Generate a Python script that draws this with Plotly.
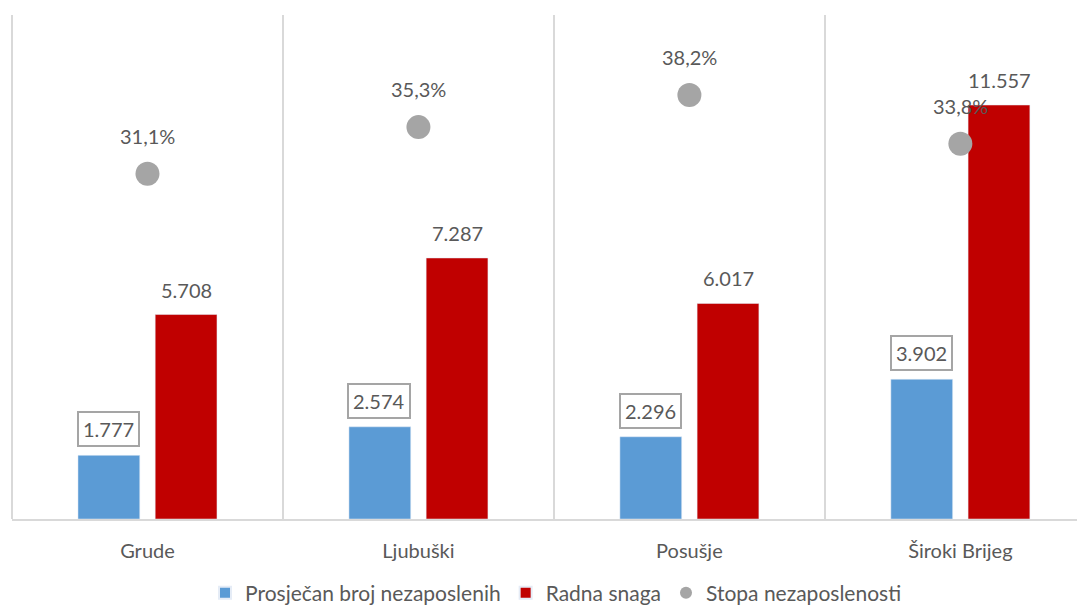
import plotly.graph_objects as go

categories = ["Grude", "Ljubuški", "Posušje", "Široki Brijeg"]
nezaposleni = [1777, 2574, 2296, 3902]
radna_snaga = [5708, 7287, 6017, 11557]
stopa = [0.311, 0.353, 0.382, 0.338]

BLUE = "#5b9bd5"
RED = "#c00000"
GRAY = "#a5a5a5"
TXT = "#595959"
FONT = "Lato"


def fmt_int(v):
    return f"{v:,}".replace(",", ".")


def fmt_pct(v):
    return f"{v*100:.1f}".replace(".", ",") + "%"


fig = go.Figure()
fig.add_trace(go.Bar(name="Prosječan broj nezaposlenih", x=categories, y=nezaposleni,
                     marker_color=BLUE, hoverinfo="skip"))
fig.add_trace(go.Bar(name="Radna snaga", x=categories, y=radna_snaga,
                     marker_color=RED, hoverinfo="skip"))
fig.add_trace(go.Scatter(name="Stopa nezaposlenosti", x=categories, y=stopa, mode="markers",
                         marker=dict(color=GRAY, size=24), yaxis="y2", hoverinfo="skip"))

annotations = []
for c, v in zip(categories, nezaposleni):
    annotations.append(dict(x=c, y=v, xref="x", yref="y", text=fmt_int(v), showarrow=False,
                            xshift=-39, yshift=26, font=dict(family=FONT, size=20, color=TXT),
                            bordercolor="#a5a5a5", borderwidth=2, borderpad=4, bgcolor="white"))
for c, v in zip(categories, radna_snaga):
    annotations.append(dict(x=c, y=v, xref="x", yref="y", text=fmt_int(v), showarrow=False,
                            xshift=39, yshift=25, font=dict(family=FONT, size=20, color=TXT)))
for c, v in zip(categories, stopa):
    annotations.append(dict(x=c, y=v, xref="x", yref="y2", text=fmt_pct(v), showarrow=False,
                            yshift=38, font=dict(family=FONT, size=20, color=TXT)))

fig.update_layout(
    width=1077, height=600,
    margin=dict(l=4, r=0, t=7, b=89, autoexpand=False),
    paper_bgcolor="white", plot_bgcolor="white",
    barmode="group", bargap=0.43, bargroupgap=0.2,
    separators=",.",
    font=dict(family=FONT, color=TXT),
    showlegend=True,
    legend=dict(orientation="h", x=0.507, xanchor="center", y=-0.147, yanchor="middle",
                font=dict(family=FONT, size=21, color=TXT), itemwidth=30, traceorder="normal",
                itemsizing="constant"),
    xaxis=dict(type="category", range=[-0.5, 3.46], showgrid=True, gridcolor="#d9d9d9", gridwidth=2,
               tickson="boundaries", ticks="", showline=True, linecolor="#d9d9d9", linewidth=2,
               automargin=False,
               tickfont=dict(family=FONT, size=20, color=TXT), ticklabelstandoff=13),
    yaxis=dict(range=[0, 14070], visible=False, showgrid=False, zeroline=False, automargin=False),
    yaxis2=dict(range=[0, 0.454], overlaying="y", visible=False, showgrid=False, zeroline=False,
                automargin=False),
    annotations=annotations,
    shapes=[dict(type="line", xref="paper", yref="paper", x0=0, x1=0, y0=0, y1=1,
                 line=dict(color="#d9d9d9", width=2), layer="below")],
)

fig.write_html("out.html")
